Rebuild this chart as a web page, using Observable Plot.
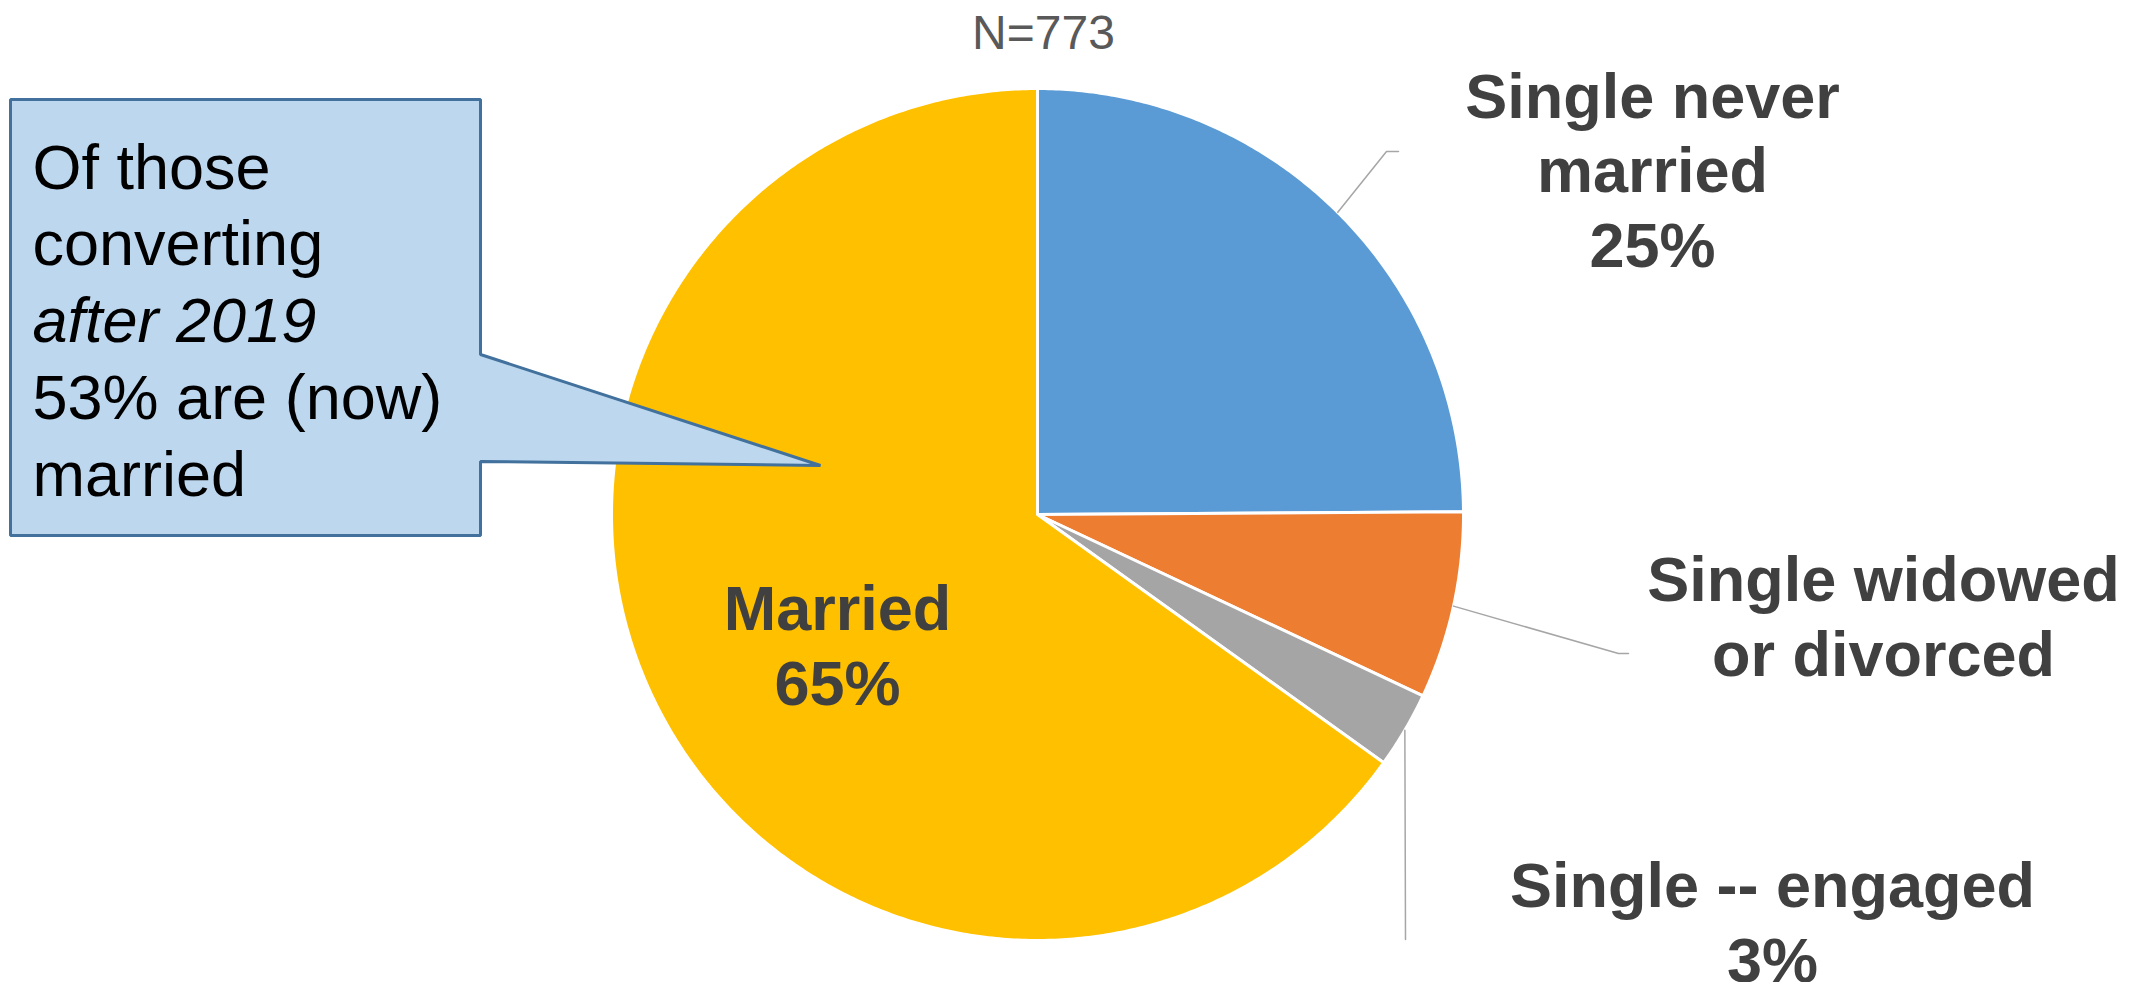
<!DOCTYPE html>
<html><head><meta charset="utf-8">
<script src="https://cdn.jsdelivr.net/npm/d3@7"></script>
<script src="https://cdn.jsdelivr.net/npm/@observablehq/plot@0.6"></script>
<style>html,body{margin:0;padding:0;background:#fff;overflow:hidden}</style>
</head><body><div id="chart"></div>
<script>
// ---- data ----
const categories = ["Single never married", "Single widowed or divorced", "Single -- engaged", "Married"];
const shares = [24.9, 7.1, 2.9, 65.1];
const sliceLabels = ["Single never\nmarried\n25%", "Single widowed\nor divorced", "Single -- engaged\n3%", "Married\n65%"];
const sliceColors = ["#5B9BD5", "#ED7D31", "#A5A5A5", "#FFC000"];
const sampleNote = "N=773";
const calloutLines = ["Of those", "converting", "after 2019", "53% are (now)", "married"];
const calloutItalic = [false, false, true, false, false];

// ---- layout (pixels) ----
const W = 2129, H = 982, CX = 1037, CY = 514, R = 426;
const ux = p => (p - CX) / R, uy = p => (CY - p) / R;
const labelPos = [[1652, 266], [1883, 675], [1772, 981], [837, 704]]; // center x, last baseline
const leaderEnds = [[[1386, 151], [1398, 151]], [[1618, 653], [1628, 653]], [[1405, 939]], null];
const calloutShape = [[10, 99], [480, 99], [480, 354], [820, 465], [480, 461], [480, 535], [10, 535]];
const calloutX = 32, calloutBase0 = 188, calloutStep = 76.8;
const notePos = [1043, 48];

// ---- derived geometry ----
const arcs = d3.pie().sort(null).value(d => d)(shares);
const slicePts = [];
arcs.forEach((a, i) => {
  slicePts.push({cat: categories[i], x: 0, y: 0});
  const n = Math.max(2, Math.ceil((a.endAngle - a.startAngle) / (Math.PI / 360)));
  for (let k = 0; k <= n; k++) {
    const t = a.startAngle + (a.endAngle - a.startAngle) * k / n;
    slicePts.push({cat: categories[i], x: Math.sin(t), y: Math.cos(t)});
  }
});
const leaderPts = [];
arcs.forEach((a, i) => {
  if (!leaderEnds[i]) return;
  const m = (a.startAngle + a.endAngle) / 2;
  leaderPts.push({cat: categories[i], x: Math.sin(m), y: Math.cos(m)});
  leaderEnds[i].forEach(([px, py]) => leaderPts.push({cat: categories[i], x: ux(px), y: uy(py)}));
});
const calloutPts = calloutShape.map(([px, py]) => ({x: ux(px), y: uy(py)}));
const labelData = sliceLabels.map((t, i) => ({text: t, x: ux(labelPos[i][0]), y: uy(labelPos[i][1])}));
const calloutData = calloutLines.map((t, i) => ({text: t, italic: calloutItalic[i], x: ux(calloutX), y: uy(calloutBase0 + calloutStep * i)}));

const chart = Plot.plot({
  width: W, height: H, margin: 0,
  x: {domain: [ux(0), ux(W)], range: [0, W], axis: null},
  y: {domain: [uy(0), uy(H)], range: [0, H], axis: null},
  color: {domain: categories, range: sliceColors},
  style: {fontFamily: "'Liberation Sans', Arial, sans-serif", background: "#fff", overflow: "visible"},
  marks: [
    Plot.line(slicePts, {x: "x", y: "y", z: "cat", fill: "cat", stroke: "white", strokeWidth: 3, curve: "linear-closed", strokeLinejoin: "round"}),
    Plot.line(leaderPts, {x: "x", y: "y", z: "cat", stroke: "#A6A6A6", strokeWidth: 1.5}),
    Plot.line(calloutPts, {x: "x", y: "y", curve: "linear-closed", fill: "#BDD7EE", stroke: "#41719C", strokeWidth: 3, strokeLinejoin: "miter"}),
    Plot.text(labelData, {x: "x", y: "y", text: "text", lineAnchor: "bottom", lineHeight: 1.175, fontSize: 63, fontWeight: "bold", fill: "#404040"}),
    Plot.text(calloutData.filter(d => !d.italic), {x: "x", y: "y", text: "text", textAnchor: "start", lineAnchor: "bottom", fontSize: 63, fill: "#000"}),
    Plot.text(calloutData.filter(d => d.italic), {x: "x", y: "y", text: "text", textAnchor: "start", lineAnchor: "bottom", fontSize: 63, fontStyle: "italic", fill: "#000"}),
    Plot.text([sampleNote], {x: ux(notePos[0]), y: uy(notePos[1]), text: d => d, lineAnchor: "bottom", fontSize: 48, fill: "#595959"})
  ]
});
document.getElementById("chart").appendChild(chart);
</script>
</body></html>
